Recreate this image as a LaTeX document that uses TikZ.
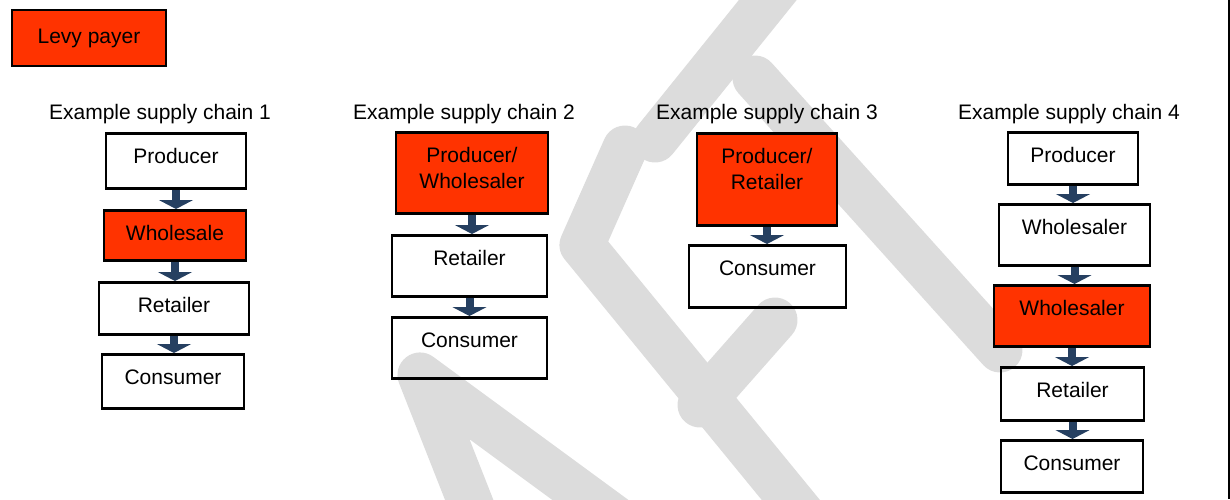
\documentclass[tikz,border=0pt]{standalone}
\usepackage{fontspec}
\setmainfont{Liberation Sans}
\usepackage{tikz}
\usepackage{xcolor}
\usetikzlibrary{positioning,calc,arrows.meta}
\definecolor{levyred}{RGB}{255,51,0}
\definecolor{flowblue}{RGB}{38,64,97}
\definecolor{wmgray}{RGB}{220,220,220}
\tikzset{
  stage/.style={draw, line width=1.25pt, anchor=north, inner ysep=0pt,
    text height=15pt, align=center},
  twoline/.style={text height=28.35pt},
  flow/.style={draw=flowblue, line width=4pt, -{Triangle[width=17pt,length=4.5pt]}},
  title/.style={anchor=base},
  watermark/.style={draw=wmgray, line width=22.5pt, line cap=round, line join=round}
}
\newcommand{\stnode}[6][]{\node [stage, #1, minimum width=#4, text depth=#5] (#2) at (#3) {#6}}

\begin{document}
\begin{tikzpicture}[x=0.5pt, y=-0.5pt, font=\fontsize{10.5pt}{13.35pt}\selectfont]
\useasboundingbox (0,0) rectangle (1230,499);

% faint watermark strokes in the background
\begin{scope}
\clip (0,0) rectangle (1230,499);
\draw[watermark] (800,-40) -- (655,140);
\draw[watermark] (755,78) -- (1000,350);
\draw[watermark] (625,148) -- (582,245) -- (840,560);
\draw[watermark] (775,320) -- (700,405);
\draw[watermark] (485,540) -- (420,375) -- (645,540);
\draw[watermark] (250,555) to[bend left=30] (300,530);
\end{scope}

\draw[line width=1.25pt] (1228.75,0) -- (1228.75,499);

\node [draw, line width=1.25pt, fill=levyred, minimum width=77pt, minimum height=28pt] (LEVY) at (89,38) {Levy payer};

\foreach \n/\x in {1/160,2/464,3/767,4/1069}
  \node [title] (T\n) at (\x,119.5) {Example supply chain \n};

\stnode{P1}{176,132}{70pt}{12.5pt}{Producer};
\stnode[fill=levyred]{W1}{175,209}{71pt}{10pt}{Wholesale};
\stnode{R1}{174,281}{75pt}{11pt}{Retailer};
\stnode{C1}{173,353}{71pt}{12pt}{Consumer};

\stnode[fill=levyred, twoline]{PW2}{472,131}{76pt}{12.15pt}{Producer/\\Wholesaler};
\stnode{R2}{469.5,234}{77.5pt}{15.5pt}{Retailer};
\stnode{C2}{469.5,316}{77.5pt}{15.5pt}{Consumer};

\stnode[fill=levyred, twoline]{PR3}{767,132}{70pt}{17.65pt}{Producer/\\Retailer};
\stnode{C3}{767.5,244}{78.5pt}{16pt}{Consumer};

\stnode{P4}{1073,131}{65pt}{11pt}{Producer};
\stnode{W4}{1074.5,203}{75.5pt}{15.5pt}{Wholesaler};
\stnode[fill=levyred]{WR4}{1072,284}{78pt}{15.5pt}{Wholesaler};
\stnode{R4}{1072.5,366}{71.5pt}{11.5pt}{Retailer};
\stnode{C4}{1072,439}{71pt}{11pt}{Consumer};

\draw[flow] (P1.south) -- (P1.south |- W1.north);
\draw[flow] (W1.south) -- (W1.south |- R1.north);
\draw[flow] (R1.south) -- (R1.south |- C1.north);

\draw[flow] (PW2.south) -- (PW2.south |- R2.north);
\draw[flow] (R2.south) -- (R2.south |- C2.north);

\draw[flow] (PR3.south) -- (PR3.south |- C3.north);

\draw[flow] (P4.south) -- (P4.south |- W4.north);
\draw[flow] (W4.south) -- (W4.south |- WR4.north);
\draw[flow] (WR4.south) -- (WR4.south |- R4.north);
\draw[flow] (R4.south) -- (R4.south |- C4.north);

\end{tikzpicture}
\end{document}
